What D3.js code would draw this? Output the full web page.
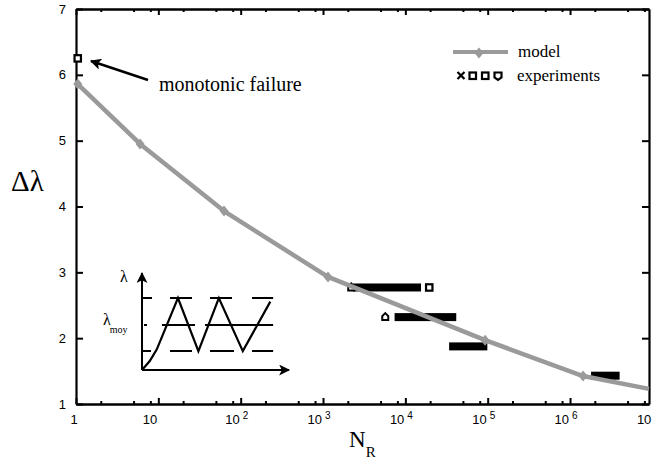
<!DOCTYPE html>
<html><head><meta charset="utf-8">
<script src="https://cdn.jsdelivr.net/npm/d3@7"></script>
<style>
html,body{margin:0;padding:0;background:#fff;}
svg{display:block;}
</style></head>
<body>
<svg id="chart" width="655" height="459"></svg>
<script>
// ---- data ----
const modelN = [1.05, 6.0, 62.8, 1150, 9.3e4, 1.44e6, 9.1e6];
const modelDL = [5.86, 4.95, 3.93, 2.93, 1.97, 1.425, 1.23];
const modelMarkers = [true, true, true, true, true, true, false];

// experimental bands (dense clusters of markers): level, N range
const expLevel = [2.77, 2.32, 1.875, 1.43];
const expNmin = [2.3e3, 7.4e3, 3.4e4, 1.8e6];
const expNmax = [1.55e4, 4.15e4, 9.9e4, 4.0e6];

// isolated experimental markers
const isoN = [1.05, 1.95e4, 5.7e3, 2.2e3];
const isoDL = [6.25, 2.77, 2.32, 2.77];
const isoShape = ["square", "square", "pent", "pent"];

const yTicks = [1, 2, 3, 4, 5, 6, 7];
const xMajor = [1, 10, 1e2, 1e3, 1e4, 1e5, 1e6, 1e7];
const xTickBase = ["1", "10", "10", "10", "10", "10", "10", "10"];
const xTickExp = ["", "", "2", "3", "4", "5", "6", ""];
const xMinorMult = [2, 5, 8];

// inset schematic (arbitrary units 0..10 x, 0..10 y)
const insetX = [0, 0.55, 1.05, 2.55, 4.0, 5.45, 7.15, 9.1];
const insetY = [0, 1.0, 2.3, 8.0, 2.1, 8.0, 2.1, 7.6];
const insetLevels = [8.0, 5.0, 2.1];

// ---- layout ----
const svg = d3.select("#chart");
const L = 76, R = 649, T = 9, B = 404;
const x = d3.scaleLog().domain([1, 9.1e6]).range([L, R]);
const y = d3.scaleLinear().domain([1, 7]).range([B, T]);
const gray = "#9a9a9a";
const serif = "'Liberation Serif','Times New Roman',serif";
const sans = "'Liberation Sans',Arial,Helvetica,sans-serif";

const minorTicks = [];
for (let k = 0; k < 7; k++) xMinorMult.forEach(m => { const v = m * Math.pow(10, k); if (v <= 9.1e6) minorTicks.push(v); });

// ---- axes ----
const axB = d3.axisBottom(x).tickValues(xMajor.filter(v => v <= 9.1e6)).tickSizeInner(-6).tickSizeOuter(0).tickFormat("");
const axBm = d3.axisBottom(x).tickValues(minorTicks).tickSizeInner(-3).tickSizeOuter(0).tickFormat("");
const axT = d3.axisTop(x).tickValues(xMajor.filter(v => v <= 9.1e6)).tickSizeInner(-6).tickSizeOuter(0).tickFormat("");
const axTm = d3.axisTop(x).tickValues(minorTicks).tickSizeInner(-3).tickSizeOuter(0).tickFormat("");
const axL = d3.axisLeft(y).tickValues(yTicks).tickSizeInner(-7).tickSizeOuter(0).tickFormat("");
const axR = d3.axisRight(y).tickValues(yTicks).tickSizeInner(-7).tickSizeOuter(0).tickFormat("");

function styleAxis(g) {
  g.select(".domain").attr("stroke", "#000").attr("stroke-width", 2.2);
  g.selectAll(".tick line").attr("stroke", "#000").attr("stroke-width", 2);
}
svg.append("g").attr("transform", `translate(0,${B})`).call(axB).call(styleAxis);
svg.append("g").attr("transform", `translate(0,${B})`).call(axBm).call(styleAxis);
svg.append("g").attr("transform", `translate(0,${T})`).call(axT).call(styleAxis);
svg.append("g").attr("transform", `translate(0,${T})`).call(axTm).call(styleAxis);
svg.append("g").attr("transform", `translate(${L},0)`).call(axL).call(styleAxis);
svg.append("g").attr("transform", `translate(${R},0)`).call(axR).call(styleAxis);

// y tick labels
svg.append("g").selectAll("text").data(yTicks).join("text")
  .attr("x", L - 10).attr("y", d => y(d) + 4.5)
  .attr("text-anchor", "end").attr("font-family", sans).attr("font-size", 13)
  .text(d => d);

// x tick labels
const xl = svg.append("g").attr("font-family", sans);
xMajor.forEach((v, i) => {
  const px = x(v);
  if (i === 0) {
    xl.append("text").attr("x", px - 2).attr("y", 424).attr("text-anchor", "middle").attr("font-size", 13).text(xTickBase[i]);
  } else {
    xl.append("text").attr("x", px - 1).attr("y", 424).attr("text-anchor", "end").attr("font-size", 13).text(xTickBase[i]);
    if (xTickExp[i]) xl.append("text").attr("x", px + 2).attr("y", 419).attr("font-size", 10).text(xTickExp[i]);
  }
});

// axis titles
svg.append("text").attr("x", 11).attr("y", 191).attr("font-family", serif).attr("font-size", 29).text("Δλ");
const nr = svg.append("text").attr("x", 349).attr("y", 447).attr("font-family", serif).attr("font-size", 23);
nr.append("tspan").text("N");
nr.append("tspan").attr("font-size", 15).attr("dy", 10).text("R");

// ---- experimental bands ----
svg.append("g").selectAll("rect").data(expLevel).join("rect")
  .attr("x", (d, i) => x(expNmin[i]))
  .attr("width", (d, i) => x(expNmax[i]) - x(expNmin[i]))
  .attr("y", d => y(d) - 4).attr("height", 8)
  .attr("fill", "#000");

// isolated markers
const iso = svg.append("g");
isoN.forEach((n, i) => {
  const cx = x(n), cy = y(isoDL[i]);
  if (isoShape[i] === "square") {
    iso.append("rect").attr("x", cx - 3.2).attr("y", cy - 3.2).attr("width", 6.4).attr("height", 6.4)
      .attr("fill", "#fff").attr("stroke", "#000").attr("stroke-width", 2.2);
  } else {
    iso.append("path").attr("d", `M${cx - 3},${cy - 1} L${cx},${cy - 4} L${cx + 3},${cy - 1} L${cx + 3},${cy + 3} L${cx - 3},${cy + 3} Z`)
      .attr("fill", "#fff").attr("stroke", "#000").attr("stroke-width", 2);
  }
});

// ---- model line ----
const pts = modelN.map((n, i) => [x(n), y(modelDL[i])]);
svg.append("path").attr("d", d3.line()(pts)).attr("fill", "none")
  .attr("stroke", gray).attr("stroke-width", 4.5).attr("stroke-linejoin", "round");
const diamond = (cx, cy) => `M${cx},${cy - 5.5} L${cx + 4.5},${cy} L${cx},${cy + 5.5} L${cx - 4.5},${cy} Z`;
svg.append("g").selectAll("path").data(pts.filter((p, i) => modelMarkers[i])).join("path")
  .attr("d", p => diamond(p[0], p[1])).attr("fill", gray);

// ---- annotation ----
svg.append("defs").append("marker").attr("id", "ah").attr("viewBox", "0 0 10 10")
  .attr("refX", 9).attr("refY", 5).attr("markerWidth", 5).attr("markerHeight", 4.5)
  .attr("orient", "auto").attr("markerUnits", "strokeWidth")
  .append("path").attr("d", "M0,0 L10,5 L0,10 L2.5,5 Z").attr("fill", "#000");
svg.append("line").attr("x1", 148).attr("y1", 80).attr("x2", 91).attr("y2", 61)
  .attr("stroke", "#000").attr("stroke-width", 2.5).attr("marker-end", "url(#ah)");
svg.append("text").attr("x", 159).attr("y", 91).attr("font-family", serif).attr("font-size", 20).text("monotonic failure");

// ---- legend ----
svg.append("line").attr("x1", 453).attr("x2", 508).attr("y1", 52).attr("y2", 52).attr("stroke", gray).attr("stroke-width", 4);
svg.append("path").attr("d", diamond(479, 53)).attr("fill", gray);
svg.append("text").attr("x", 518).attr("y", 57).attr("font-family", serif).attr("font-size", 17).text("model");
svg.append("text").attr("x", 517).attr("y", 81).attr("font-family", serif).attr("font-size", 17).text("experiments");
const lg = svg.append("g").attr("stroke", "#000").attr("stroke-width", 2.2).attr("fill", "#fff");
lg.append("path").attr("d", "M457.5,72 L464.5,79 M464.5,72 L457.5,79").attr("fill", "none");
lg.append("rect").attr("x", 469.5).attr("y", 72.5).attr("width", 6.5).attr("height", 6.5);
lg.append("rect").attr("x", 482).attr("y", 72.5).attr("width", 6.5).attr("height", 6.5);
lg.append("path").attr("d", "M494.5,72.5 L501.5,72.5 L501.5,77.5 L498,80 L494.5,77.5 Z");

// ---- inset schematic ----
const ix = d3.scaleLinear().domain([0, 10]).range([142, 283]);
const iy = d3.scaleLinear().domain([0, 10]).range([370, 280]);
const ins = svg.append("g");
ins.append("defs").append("marker").attr("id", "ah2").attr("viewBox", "0 0 10 10")
  .attr("refX", 9).attr("refY", 5).attr("markerWidth", 6.5).attr("markerHeight", 5.5)
  .attr("orient", "auto").attr("markerUnits", "strokeWidth")
  .append("path").attr("d", "M0,0 L10,5 L0,10 L2.5,5 Z").attr("fill", "#000");
ins.append("line").attr("x1", ix(0)).attr("y1", iy(0)).attr("x2", ix(0)).attr("y2", 273)
  .attr("stroke", "#000").attr("stroke-width", 2).attr("marker-end", "url(#ah2)");
ins.append("line").attr("x1", ix(0)).attr("y1", iy(0)).attr("x2", 289).attr("y2", iy(0))
  .attr("stroke", "#000").attr("stroke-width", 2).attr("marker-end", "url(#ah2)");
// dashed levels
ins.append("line").attr("x1", ix(0)).attr("x2", ix(9.3)).attr("y1", iy(insetLevels[0])).attr("y2", iy(insetLevels[0]))
  .attr("stroke", "#000").attr("stroke-width", 2).attr("stroke-dasharray", "10,18,22,18,22,20,23");
ins.append("line").attr("x1", ix(0)).attr("x2", ix(9.3)).attr("y1", iy(insetLevels[2])).attr("y2", iy(insetLevels[2]))
  .attr("stroke", "#000").attr("stroke-width", 2).attr("stroke-dasharray", "9,19,22,18,24,18,23");
ins.append("line").attr("x1", ix(0)).attr("x2", ix(9.3)).attr("y1", iy(insetLevels[1])).attr("y2", iy(insetLevels[1]))
  .attr("stroke", "#000").attr("stroke-width", 2).attr("stroke-dasharray", "0,2,3,15,33,10,80");
ins.append("path").attr("d", d3.line().curve(d3.curveLinear)(insetX.map((v, i) => [ix(v), iy(insetY[i])])))
  .attr("fill", "none").attr("stroke", "#000").attr("stroke-width", 2.2).attr("stroke-linejoin", "miter");
ins.append("text").attr("x", 120).attr("y", 282).attr("font-family", serif).attr("font-size", 16).text("λ");
const lm = ins.append("text").attr("x", 103).attr("y", 325).attr("font-family", serif).attr("font-size", 16);
lm.append("tspan").text("λ");
lm.append("tspan").attr("font-size", 10).attr("dy", 8).attr("dx", -1).text("moy");
</script>
</body></html>
